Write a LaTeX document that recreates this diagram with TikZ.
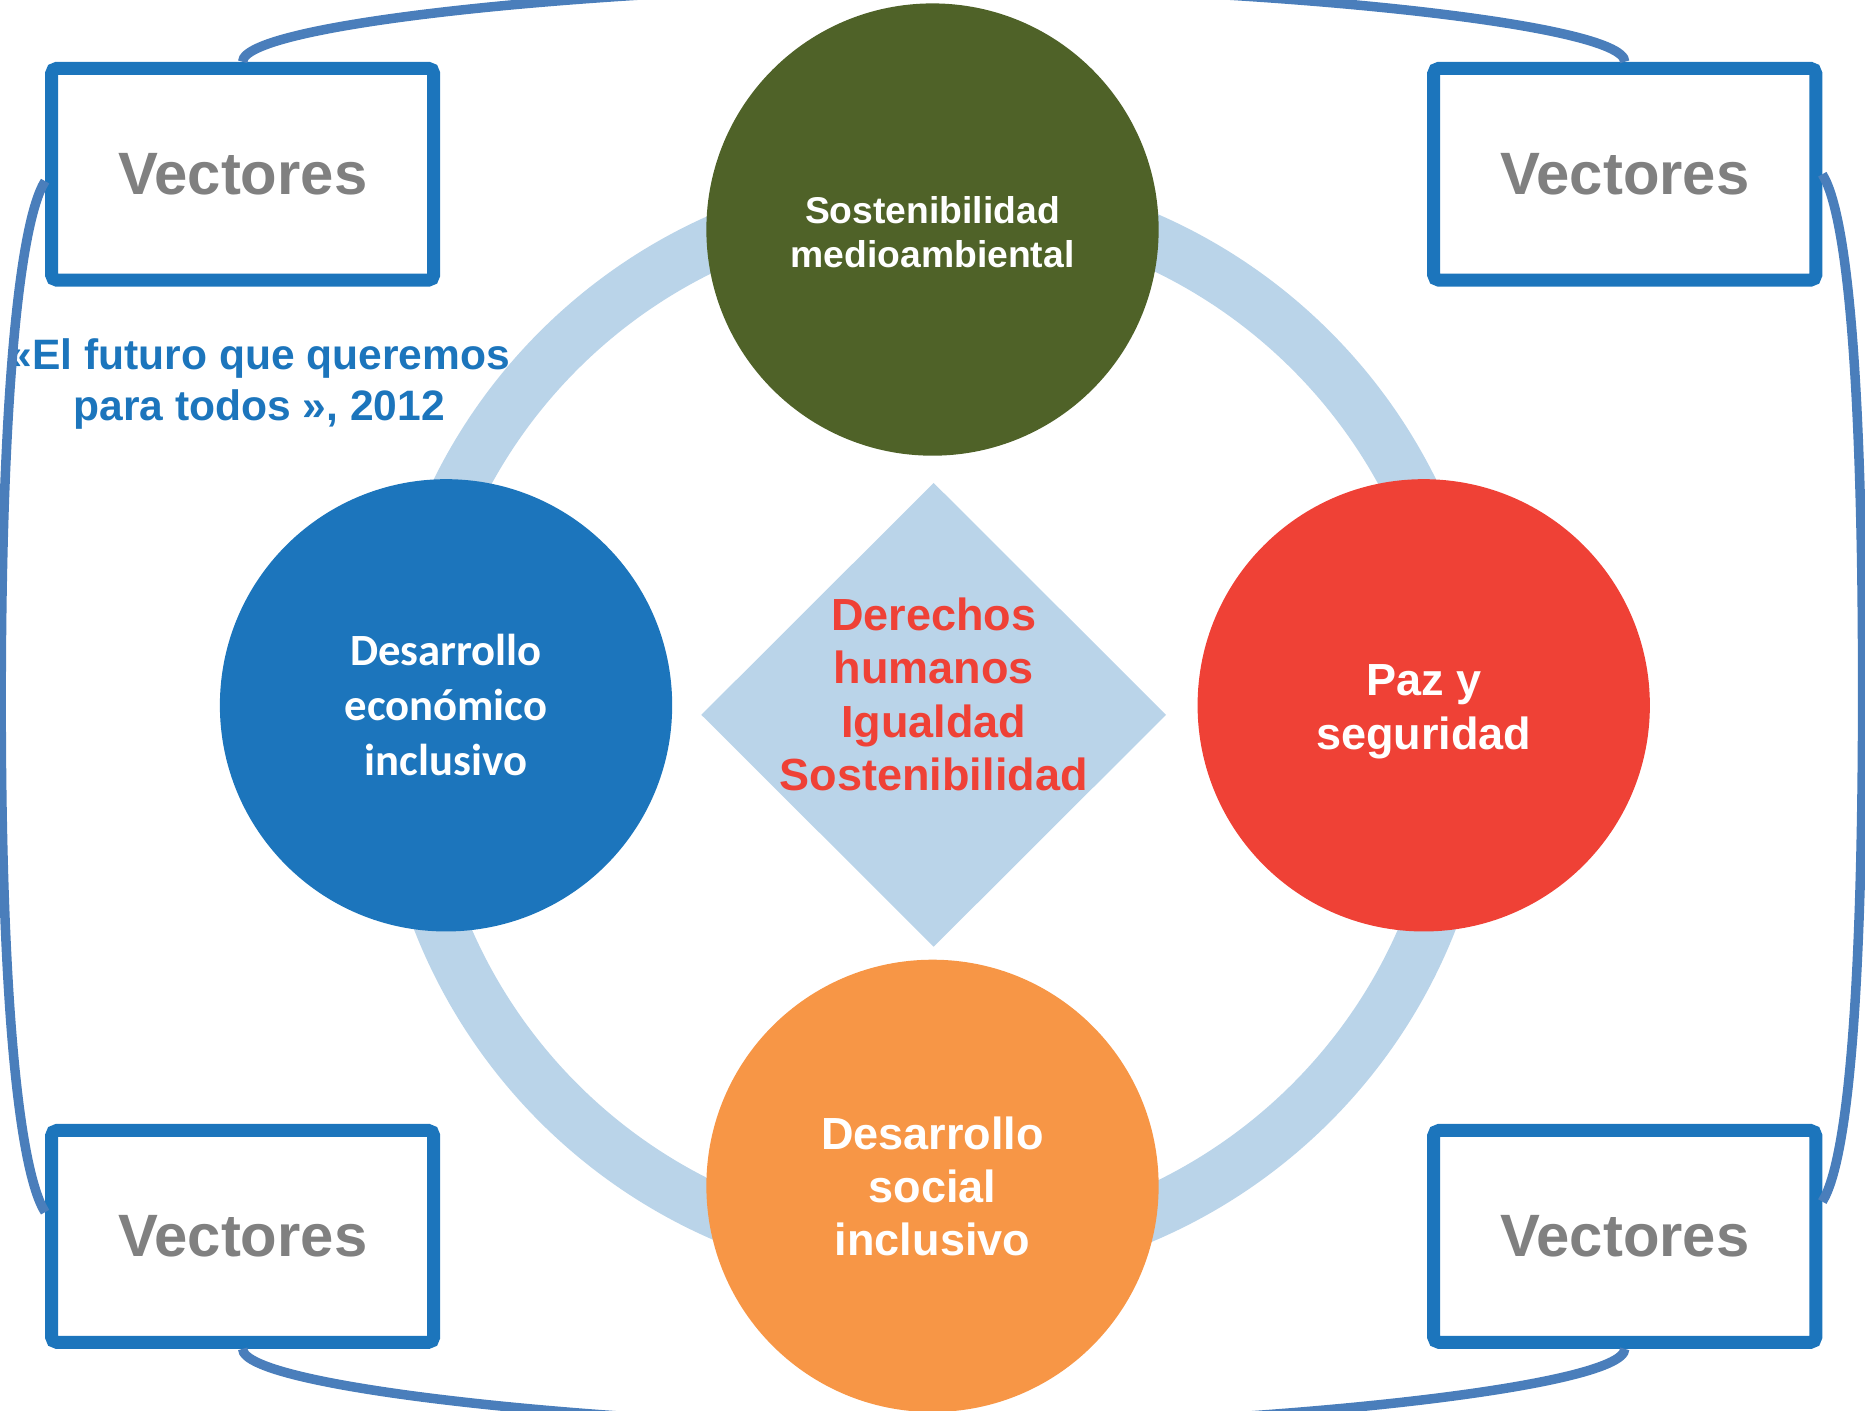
\documentclass[tikz,border=0pt]{standalone}
\usepackage{fontspec}
\setmainfont{Liberation Sans}
\newfontfamily\carlito{Carlito}
\usetikzlibrary{shapes.geometric}

\definecolor{ringblue}{HTML}{BAD4E9}
\definecolor{boxblue}{HTML}{1C75BC}
\definecolor{linkblue}{HTML}{4A7EBB}
\definecolor{envgreen}{HTML}{4F6228}
\definecolor{econblue}{HTML}{1C75BC}
\definecolor{peacered}{HTML}{EF4136}
\definecolor{socorange}{HTML}{F79646}
\definecolor{vecgray}{HTML}{808080}

\tikzset{
	pillar/.style={circle,inner sep=0pt,minimum size=4.52cm},
	pillartext/.style={text=white,align=center,font=\bfseries\fontsize{12.8}{15.2}\selectfont},
	vecbox/.style={rectangle,draw=boxblue,fill=white,line width=3.7pt,rounded corners=1.5pt,minimum width=3.818cm,minimum height=2.117cm,text=vecgray,font=\bfseries\fontsize{17}{20}\selectfont},
	link/.style={draw=linkblue,line width=2.7pt},
}

\begin{document}
\begin{tikzpicture}[x=0.011894cm,y=-0.011894cm]
	\useasboundingbox (0,0) rectangle (1568,1186);
	\clip (0,0) rectangle (1568,1186);
	
	\draw [ringblue,line width=15.2pt] (786,611) circle [radius=5.317cm];
	
	\node (core) [diamond,fill=ringblue,inner sep=0pt,minimum width=4.65cm,minimum height=4.64cm] at (785,601) {};
	\node (coretext) [text=peacered,align=center,font=\bfseries\fontsize{12.8}{15.2}\selectfont] at (785,584) {Derechos\\humanos\\Igualdad\\Sostenibilidad};
	
	\node (env) [pillar,fill=envgreen] at (784,193) {};
	\node (econ) [pillar,fill=econblue] at (375,593) {};
	\node (peace) [pillar,fill=peacered] at (1197,593) {};
	\node (social) [pillar,fill=socorange] at (784,997) {};
	
	\node (envtext) [pillartext,font=\bfseries\fontsize{10.6}{12.5}\selectfont] at (784,195) {Sostenibilidad\\medioambiental};
	\node (econtext) [pillartext,font=\carlito\bfseries\fontsize{12.7}{15.6}\selectfont] at (375,593) {Desarrollo\\económico\\inclusivo};
	\node (peacetext) [pillartext,font=\bfseries\fontsize{12.8}{15.5}\selectfont] at (1197,598.5) {Paz y\\seguridad};
	\node (socialtext) [pillartext] at (784,997.5) {Desarrollo\\social\\inclusivo};
	
	\foreach \name/\x/\y in {tl/204/146.5,tr/1366/146.5,bl/204/1039.5,br/1366/1039.5}
	\node (\name) [vecbox] at (\x,\y) {Vectores};
	
	\node (quote) [text=boxblue,align=center,font=\bfseries\fontsize{12.1}{14.6}\selectfont] at (218,323) {«El futuro que queremos\\para todos », 2012};
	
	\draw [link] (tl.north) .. controls +(0,-33) and +(-265,0) .. (785,-12) .. controls +(265,0) and +(0,-33) .. (tr.north);
	\draw [link] (bl.south) .. controls +(0,33) and +(-265,0) .. (785,1200) .. controls +(265,0) and +(0,33) .. (br.south);
	\draw [link] (tl.182) .. controls +(-22,35) and +(0,-250) .. (1,590) .. controls +(0,250) and +(-22,-35) .. (bl.173);
	\draw [link] (tr.east) .. controls +(22,35) and +(0,-250) .. (1566,580) .. controls +(0,250) and +(22,-35) .. (br.10);
\end{tikzpicture}
\end{document}
